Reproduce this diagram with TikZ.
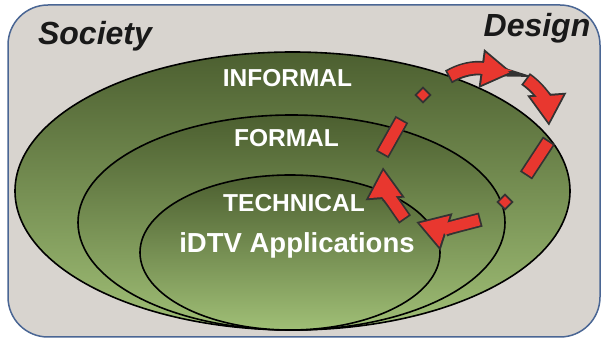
\documentclass[tikz,border=0pt]{standalone}
\usepackage{fontspec}
\setmainfont{Liberation Sans}
\usetikzlibrary{arrows.meta}
\definecolor{panelgrey}{RGB}{216,212,207}
\definecolor{frameblue}{RGB}{74,102,148}
\definecolor{olivetop}{RGB}{76,95,48}
\definecolor{olivebot}{RGB}{160,191,118}
\definecolor{loopred}{RGB}{232,55,47}
\tikzset{
  ring/.style={draw=black, line width=1.6pt},
  layername/.style={text=white, font=\fontsize{24.5}{24.5}\selectfont\bfseries, inner sep=0pt, anchor=base},
  cornername/.style={text=black!90, font=\fontsize{32}{32}\selectfont\bfseries\itshape, inner sep=0pt, anchor=base},
  rim/.style={draw=black!80, line width=14.5pt, shorten <=-1.8pt},
  band/.style={draw=loopred, line width=11pt},
  rimtip/.style={-{Triangle[length=32pt,width=37pt]}},
  bandtip/.style={shorten >=3.5pt, -{Triangle[length=26.5pt,width=30.5pt]}},
  knot/.style={draw=black!80, line width=1.8pt, fill=loopred, minimum size=10.5pt, inner sep=0pt, rotate=45}
}
\begin{document}
\begin{tikzpicture}[x=1pt,y=1pt]
	\useasboundingbox (0,0) rectangle (603,340);
	\draw[frameblue, line width=1.5pt, fill=panelgrey, rounded corners=40pt] (8,3) rectangle (600,335);
	% nested layers
	\foreach \cx/\cy/\rx/\ry in {292.5/149/277.5/139, 291.5/117.5/213.5/107.5, 290/87.5/150/77.5}{
		\shade[top color=olivetop, bottom color=olivebot] (\cx,\cy) ellipse [x radius=\rx pt, y radius=\ry pt];
		\draw[ring] (\cx,\cy) ellipse [x radius=\rx pt, y radius=\ry pt];
	}
	\node[cornername] (society) at (95,295) {Society};
	\node[cornername] (design) at (537,303) {Design};
	\node[layername] (informal) at (287.5,253) {INFORMAL};
	\node[layername] (formal) at (286.5,193) {FORMAL};
	\node[layername] (technical) at (294,128) {TECHNICAL};
	\node[layername, font=\fontsize{27.5}{27.5}\selectfont\bfseries] (apps) at (297,87) {iDTV Applications};
	% design loop
	\coordinate (a0) at (450,264); \coordinate (a1) at (513,267);
	\coordinate (b0) at (527,260); \coordinate (b1) at (549,214);
	\coordinate (c0) at (548,198); \coordinate (c1) at (527,166);
	\coordinate (e0) at (479,120); \coordinate (e1) at (416,118);
	\coordinate (f0) at (404,122); \coordinate (f1) at (383,173);
	\coordinate (g0) at (383,187); \coordinate (g1) at (401,219);
	\foreach \p/\o/\i in {a/30/172, b/-35/94, e/195/-18, f/125/-86}{
		\draw[rim, rimtip] (\p0) to[out=\o, in=\i] (\p1);
		\draw[band, bandtip] (\p0) to[out=\o, in=\i] (\p1);
	}
	\foreach \p in {c,g}{
		\draw[rim, shorten >=-1.8pt] (\p0) -- (\p1);
		\draw[band] (\p0) -- (\p1);
	}
	\node[knot] (dot1) at (505,138) {};
	\node[knot] (dot2) at (423,245) {};
\end{tikzpicture}
\end{document}
